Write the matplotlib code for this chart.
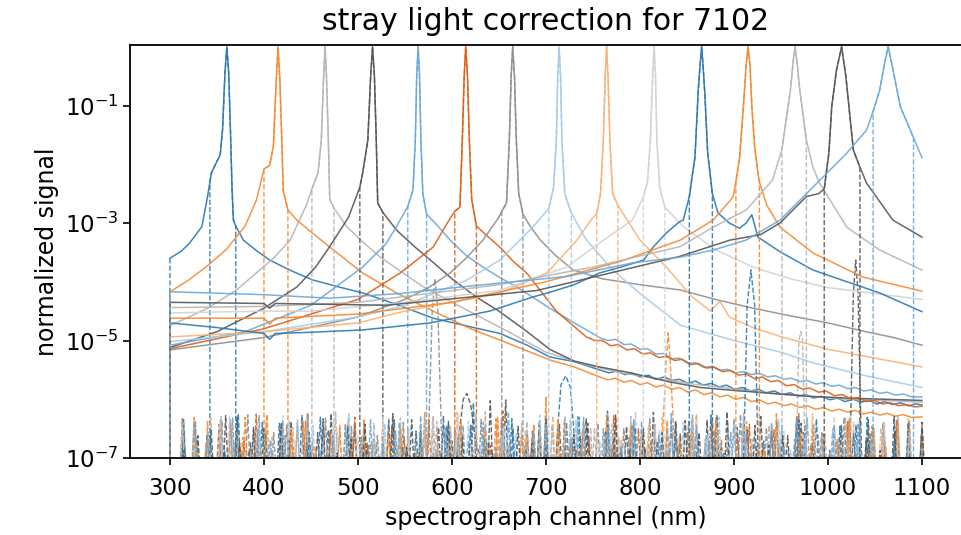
import numpy as np
import matplotlib.pyplot as plt

# laser lines measured on channel 7102 (peak position in nm)
peaks = [360.5, 415, 465, 515.5, 564, 614.6, 664.6, 714, 764.5, 815, 865.6, 915, 965, 1014.5, 1064]
colors = ['#2a78b0', '#f5892f', '#b5b5b5', '#555555', '#6aa8d8',
          '#dc6012', '#8e8e8e', '#a6cbe8', '#f9b274', '#d2d2d2',
          '#2a78b0', '#f5892f', '#b5b5b5', '#555555', '#6aa8d8']

# uncorrected signal (solid), (nm, log10 normalized signal)
l1 = [(300, -3.60), (312, -3.48), (321, -3.34), (334, -3.06), (340, -2.55), (342.5, -2.3), (344, -2.15),
      (350, -1.95), (353.5, -1.84), (356, -1.4), (358.5, -0.45), (360.5, 0), (362.5, -0.45), (364.5, -1.5),
      (366, -2.4), (367.5, -2.95), (370, -3.05), (378, -3.29), (392, -3.47), (406, -3.63), (430, -3.82),
      (452, -3.97), (480, -4.09), (505, -4.19), (540, -4.38), (580, -4.62), (615, -4.75), (651, -4.88),
      (680, -5.08), (704, -5.28), (730, -5.36), (757, -5.50),
      (767, -5.55), (775, -5.52), (784, -5.58), (792, -5.56), (800, -5.62), (809, -5.59), (817, -5.66),
      (826, -5.62), (834, -5.68), (842, -5.66), (851, -5.73), (859, -5.69), (867, -5.76), (876, -5.73),
      (884, -5.79), (892, -5.76), (901, -5.83), (909, -5.80), (918, -5.86), (926, -5.83), (934, -5.89),
      (943, -5.86), (951, -5.92), (960, -5.89), (968, -5.95), (976, -5.92), (985, -5.98), (993, -5.95),
      (1002, -6.01), (1010, -5.98), (1018, -6.04), (1027, -6.00), (1035, -6.05), (1044, -6.02),
      (1052, -6.08), (1060, -6.04), (1069, -6.09), (1077, -6.06), (1086, -6.11), (1094, -6.08), (1100, -6.10)]
l2 = [(300, -4.17), (320, -3.97), (339, -3.74), (360, -3.45), (380, -3.05), (392, -2.61), (400, -2.08),
      (406, -2.02), (410, -1.7), (413, -0.6), (415, 0), (417, -0.6), (419, -1.6), (420.5, -2.45),
      (425.5, -2.78), (435, -2.95), (450, -3.15), (470, -3.41), (505, -3.85), (541, -4.19), (580, -4.5),
      (620, -4.8), (660, -5.05), (704, -5.33), (730, -5.45), (757, -5.62),
      (766, -5.67), (774, -5.64), (783, -5.71), (791, -5.68), (800, -5.75), (808, -5.72), (817, -5.79),
      (825, -5.76), (834, -5.83), (842, -5.80), (851, -5.88), (859, -5.84), (868, -5.92), (876, -5.89),
      (885, -5.96), (893, -5.93), (902, -6.00), (910, -5.97), (919, -6.04), (927, -6.01), (936, -6.08),
      (944, -6.05), (953, -6.11), (961, -6.08), (970, -6.14), (978, -6.11), (987, -6.17), (995, -6.14),
      (1004, -6.20), (1012, -6.17), (1021, -6.22), (1029, -6.19), (1038, -6.25), (1046, -6.22),
      (1055, -6.27), (1063, -6.24), (1072, -6.29), (1080, -6.26), (1089, -6.31), (1100, -6.30)]
l3 = [(300, -4.75), (340, -4.45), (370, -4.15), (392, -3.85), (410, -3.6), (428, -3.29), (445, -2.7),
      (451, -2.42), (457.5, -2.15), (461, -1.59), (463.5, -0.5), (465, 0), (466.5, -0.5), (468.5, -1.6),
      (470, -2.6), (474.5, -2.75), (488, -3.06), (505, -3.32), (523, -3.57), (545, -3.82), (569, -4.08),
      (600, -4.35), (630, -4.6), (660, -4.85), (700, -5.2), (740, -5.4), (780, -5.55), (820, -5.65),
      (860, -5.75), (900, -5.82), (940, -5.9), (980, -5.95), (1020, -6.0), (1060, -6.02), (1100, -6.05)]
l4 = [(300, -5.12), (350, -4.85), (400, -4.45), (435, -4.09), (455, -3.75), (470, -3.40), (490, -2.9),
      (502, -2.39), (505, -2.15), (510.5, -1.59), (513.5, -0.5), (515.5, 0), (517.5, -0.5), (519.5, -1.6),
      (521, -2.66), (526.5, -2.82), (541, -3.12), (560, -3.4), (577, -3.63), (600, -3.95), (625, -4.25),
      (650, -4.5), (680, -4.85), (704, -5.15), (730, -5.35), (757, -5.45), (790, -5.55), (830, -5.7),
      (864, -5.8), (900, -5.85), (940, -5.9), (980, -5.95), (1020, -5.98), (1060, -6.0), (1100, -6.02)]
l5 = [(300, -5.08), (380, -4.85), (450, -4.4), (505, -3.75), (530, -3.35), (541, -3.06), (553, -2.72),
      (558.5, -2.44), (561, -1.6), (562.5, -0.5), (564, 0), (565.5, -0.5), (567, -1.6), (569, -2.5),
      (573, -2.85), (585, -3.05), (598, -3.29), (615, -3.55), (633, -3.75), (650, -3.92), (669, -4.09),
      (704, -4.45), (730, -4.7), (757, -4.95),
      (766, -5.00), (774, -4.98), (783, -5.07), (791, -5.06), (800, -5.15), (808, -5.14), (817, -5.23),
      (825, -5.22), (834, -5.31), (842, -5.30), (851, -5.39), (859, -5.38), (868, -5.46), (876, -5.44),
      (885, -5.51), (893, -5.49), (902, -5.55), (910, -5.53), (919, -5.58), (927, -5.56), (936, -5.62),
      (944, -5.60), (953, -5.66), (961, -5.64), (970, -5.70), (978, -5.68), (987, -5.74), (995, -5.72),
      (1004, -5.78), (1012, -5.76), (1021, -5.82), (1029, -5.80), (1038, -5.86), (1046, -5.84),
      (1055, -5.90), (1063, -5.88), (1072, -5.93), (1080, -5.91), (1089, -5.96), (1100, -5.96)]
l6 = [(300, -5.14), (400, -4.8), (500, -4.3), (545, -3.85), (565, -3.6), (580, -3.41), (595, -3.0),
      (603, -2.8), (608.5, -2.73), (611, -1.6), (613, -0.5), (614.6, 0), (616.5, -0.5), (618.5, -1.6),
      (621, -2.6), (626, -3.05), (636, -3.2), (651, -3.41), (665, -3.65), (680, -3.86), (711, -4.5),
      (743, -4.94),
      (752, -5.00), (760, -5.00), (769, -5.09), (777, -5.07), (786, -5.16), (794, -5.14), (803, -5.23),
      (811, -5.21), (820, -5.29), (828, -5.27), (837, -5.34), (845, -5.32), (854, -5.41), (862, -5.39),
      (871, -5.47), (879, -5.45), (888, -5.53), (896, -5.51), (905, -5.59), (913, -5.57), (922, -5.65),
      (930, -5.62), (939, -5.70), (947, -5.68), (956, -5.77), (964, -5.75), (973, -5.83), (981, -5.81),
      (990, -5.88), (998, -5.86), (1007, -5.94), (1015, -5.92), (1024, -5.99), (1032, -5.97),
      (1041, -6.04), (1049, -6.02), (1058, -6.08), (1066, -6.06), (1075, -6.11), (1083, -6.09),
      (1092, -6.13), (1100, -6.12)]
l7 = [(300, -5.16), (400, -4.95), (500, -4.6), (550, -4.3), (575, -4.1), (598, -3.85), (615, -3.6),
      (633, -3.29), (650, -2.9), (653, -2.8), (658, -2.66), (661, -1.6), (663, -0.5), (664.6, 0),
      (666.5, -0.5), (668.5, -1.6), (671, -2.5), (675.5, -2.85), (683, -3.05), (694, -3.29), (710, -3.55),
      (729, -3.80), (760, -3.95), (800, -4.05), (843, -4.14), (880, -4.3), (920, -4.45), (960, -4.58),
      (1000, -4.7), (1040, -4.85), (1070, -4.95), (1100, -5.08)]
l8 = [(300, -5.02), (400, -4.85), (500, -4.6), (550, -4.4), (616, -3.97), (651, -3.63), (686, -3.07),
      (703, -2.75), (708, -2.4), (711, -1.6), (712.5, -0.5), (714, 0), (715.5, -0.5), (717, -1.6),
      (720, -2.5), (723, -2.65), (727, -2.83), (743, -3.29), (771, -3.80), (800, -4.2), (843, -4.74),
      (900, -5.0), (950, -5.2), (984, -5.38), (1040, -5.6), (1100, -5.8)]
l9 = [(300, -4.94), (400, -4.85), (500, -4.7), (550, -4.5), (650, -4.2), (701, -3.85), (733, -3.29),
      (748, -2.95), (754, -2.83), (758, -2.5), (761, -1.6), (763, -0.5), (764.5, 0), (766, -0.5),
      (768, -1.6), (771, -2.5), (776.5, -2.7), (800, -3.29), (828, -3.75), (855, -4.25), (875, -4.5),
      (885, -4.33), (895, -4.6), (920, -4.78), (951, -4.94), (1000, -5.15), (1050, -5.3), (1100, -5.45)]
l10 = [(300, -4.53), (400, -4.5), (450, -4.5), (550, -4.35), (650, -4.15), (722, -3.75), (757, -3.34),
       (792, -2.95), (803.5, -2.56), (808, -2.3), (811, -1.6), (813.5, -0.5), (815, 0), (816.5, -0.5),
       (818, -1.6), (821, -2.4), (826.5, -2.73), (846, -3.06), (880, -3.45), (920, -3.75), (960, -3.95),
       (1000, -4.1), (1050, -4.2), (1100, -4.3)]
l11 = [(300, -4.70), (350, -4.78), (400, -4.88), (406, -4.98), (412, -4.88), (450, -4.86), (505, -4.82),
       (577, -4.70), (640, -4.5), (686, -4.26), (704, -4.18), (730, -4.05), (757, -3.85), (780, -3.75),
       (804, -3.63), (814, -3.41), (828, -3.17), (842, -2.98), (846, -2.95), (852.5, -2.55), (856, -2.15),
       (858.5, -1.88), (862, -0.74), (864, -0.3), (865.6, 0), (867, -0.3), (869, -0.8), (872, -1.8),
       (877, -2.5), (883, -2.83), (895, -3.0), (906, -3.09), (913, -3.0), (919, -2.86), (925.5, -3.24),
       (950, -3.5), (984, -3.80), (1020, -4.0), (1055, -4.19), (1100, -4.51)]
l12 = [(300, -4.62), (400, -4.62), (406, -4.72), (412, -4.62), (500, -4.55), (600, -4.35), (700, -4.0),
       (780, -3.65), (843, -3.29), (878, -2.95), (899, -2.56), (902, -2.3), (906, -1.88), (910, -1.02),
       (913, -0.3), (915, 0), (917, -0.3), (919, -1.02), (922, -1.7), (925.5, -2.15), (927, -2.3),
       (935, -2.7), (949, -3.07), (984, -3.51), (1037, -3.92), (1100, -4.16)]
l13 = [(300, -4.44), (400, -4.42), (500, -4.35), (650, -4.05), (750, -3.75), (843, -3.40), (878, -3.07),
       (913, -2.78), (941, -2.27), (951, -1.75), (955, -1.3), (960, -0.74), (963, -0.25), (965, 0),
       (967, -0.25), (970, -0.74), (977, -1.59), (984, -2.05), (991, -2.32), (1020, -3.07), (1055, -3.46),
       (1100, -3.80)]
l14 = [(300, -4.35), (400, -4.37), (406, -4.45), (412, -4.37), (530, -4.40), (690, -4.15), (842, -3.57),
       (896, -3.29), (928, -3.2), (949, -3.0), (977, -2.55), (990, -2.5), (996, -2.42), (1001, -1.8),
       (1004, -1.02), (1009, -0.4), (1014.5, 0), (1019, -0.5), (1027, -1.76), (1034, -2.05), (1041, -2.32),
       (1069, -2.95), (1100, -3.24)]
l15 = [(300, -4.17), (400, -4.22), (470, -4.28), (545, -4.20), (615, -4.08), (722, -3.91), (792, -3.68),
       (843, -3.58), (878, -3.46), (913, -3.29), (949, -2.95), (984, -2.39), (1020, -1.81), (1041, -1.42),
       (1048, -1.1), (1055, -0.74), (1060, -0.3), (1064, 0), (1068, -0.3), (1077, -1.02), (1091, -1.55),
       (1100, -1.89)]

# range around each peak kept by the correction (nm)
windows = [(342.5, 370), (400, 425.5), (451, 474.5), (502, 526.6), (553, 573), (603, 626),
           (653, 675.5), (703, 727), (754, 776.6), (803.5, 826.6), (852.5, 877), (902, 927),
           (951, 983.7), (996, 1034), (1048, 1091)]

# residual noise spikes of the corrected signal, in units of 1.5e-8, evenly over 300-1100 nm
f1 = [4, 22, 6, 31, 3, 18, 9, 27, 5, 14, 35, 7, 20, 2, 26, 11, 4, 30, 8, 17, 3, 24, 6, 58, 12, 5, 21, 9,
      29, 4, 16, 33, 7, 19, 3, 25, 10, 6, 28, 2, 15, 36, 8, 22, 5, 13, 27, 4, 18, 31, 9, 3, 24, 12, 6, 20, 30, 5]
f2 = [7, 19, 3, 28, 10, 5, 33, 14, 2, 23, 8, 40, 6, 17, 26, 4, 12, 29, 3, 21, 9, 34, 5, 15, 24, 2, 31, 11,
      6, 19, 72, 7, 13, 27, 3, 22, 8, 30, 5, 16, 25, 4, 37, 9, 14, 6, 28, 3, 20, 11, 33, 7, 18, 2, 26, 10, 23, 5, 15, 29, 4]
f3 = [12, 3, 25, 8, 17, 30, 5, 21, 2, 14, 27, 9, 36, 4, 19, 7, 24, 11, 3, 32, 6, 16, 28, 5, 20, 9, 41, 3,
      13, 26, 7, 18, 4, 29, 10, 22, 2, 15, 34, 6, 25, 8, 12, 31, 4, 19, 27, 6, 14, 3, 23, 9, 30, 5, 17, 11, 26, 3, 20, 8, 35, 5, 16]
f4 = [5, 26, 9, 16, 3, 33, 12, 21, 4, 28, 7, 18, 38, 2, 24, 10, 15, 6, 30, 3, 22, 13, 5, 27, 8, 65, 4, 19,
      11, 25, 3, 31, 7, 14, 23, 5, 40, 9, 17, 2, 29, 12, 6, 21, 34, 4, 16, 26, 8, 3, 24, 13, 30, 6, 18, 9, 27]
f5 = [18, 4, 29, 7, 23, 12, 3, 35, 9, 16, 26, 5, 20, 2, 31, 10, 14, 6, 27, 3, 39, 8, 19, 24, 4, 13, 30, 7,
      17, 2, 25, 11, 34, 5, 21, 9, 15, 28, 3, 22, 6, 36, 12, 4, 18, 27, 8, 3, 24, 14, 32, 5, 19, 10, 26, 6, 16, 29, 4, 21]
f6 = [9, 31, 4, 17, 25, 6, 13, 37, 3, 22, 10, 28, 5, 19, 2, 33, 12, 7, 24, 15, 4, 30, 8, 20, 3, 26, 11, 42,
      6, 16, 23, 5, 29, 9, 14, 3, 35, 7, 21, 12, 4, 27, 18, 6, 32, 2, 15, 25, 9, 20, 4, 38, 11, 17, 6, 28, 3, 22, 13, 30, 5, 19]
f7 = [3, 21, 14, 6, 29, 9, 36, 4, 18, 25, 7, 12, 32, 3, 23, 10, 16, 5, 27, 8, 40, 2, 20, 13, 30, 6, 17, 24,
      4, 34, 9, 15, 3, 26, 11, 21, 7, 31, 5, 14, 28, 3, 19, 10, 37, 6, 22, 12, 4, 25, 16, 8, 33, 3, 18, 27, 7, 13, 23]
f8 = [16, 5, 27, 11, 3, 34, 8, 20, 14, 4, 30, 7, 24, 2, 18, 38, 6, 12, 26, 9, 21, 3, 32, 5, 15, 28, 10, 4,
      23, 17, 6, 36, 3, 19, 29, 8, 13, 25, 5, 41, 11, 20, 4, 27, 7, 16, 33, 3, 22, 12, 6, 30, 9, 18, 26, 4, 14, 35, 8, 21, 5, 24, 11, 3]
f9 = [25, 7, 14, 32, 4, 19, 10, 28, 3, 22, 37, 6, 15, 26, 9, 3, 31, 12, 18, 5, 24, 40, 8, 13, 29, 4, 20, 11,
      35, 6, 17, 2, 27, 14, 9, 23, 33, 5, 16, 7, 30, 3, 21, 12, 26, 6, 19, 38, 4, 15, 28, 9, 22, 3, 31, 11]
f10 = [6, 24, 12, 3, 30, 17, 8, 26, 4, 35, 13, 21, 5, 28, 9, 16, 2, 33, 19, 7, 25, 11, 4, 39, 14, 22, 6, 29,
       3, 18, 31, 9, 15, 24, 5, 36, 10, 20, 3, 27, 13, 7, 32, 17, 4, 23, 11, 30, 6, 19, 26, 3, 14, 34, 8, 21, 5, 28, 12, 16, 4]
f11 = [13, 30, 5, 21, 9, 38, 3, 17, 26, 7, 12, 33, 4, 23, 15, 6, 29, 10, 19, 2, 35, 8, 24, 14, 4, 31, 11, 20,
       6, 27, 16, 3, 42, 9, 22, 5, 18, 28, 7, 13, 36, 4, 25, 10, 19, 3, 30, 12, 6, 23, 17, 33, 5, 14, 27, 8]
f12 = [20, 6, 33, 11, 4, 26, 15, 8, 37, 3, 19, 28, 10, 5, 24, 13, 31, 2, 17, 22, 7, 40, 9, 14, 27, 4, 21, 34,
       6, 16, 25, 3, 30, 12, 18, 5, 36, 8, 23, 11, 4, 29, 15, 20, 6, 32, 3, 26, 13, 9, 38, 5, 18, 24, 7, 14, 31, 4, 21, 10, 27, 6, 16]
f13 = [8, 27, 4, 19, 34, 11, 6, 23, 15, 3, 30, 9, 21, 40, 5, 14, 26, 7, 18, 2, 32, 12, 24, 6, 37, 10, 16, 4,
       28, 20, 8, 35, 3, 22, 13, 29, 5, 17, 25, 9, 3, 31, 14, 19, 6, 39, 11, 24, 4, 15, 27, 7, 21, 33, 5, 12, 26, 9, 18, 3]
f14 = [29, 9, 16, 4, 35, 12, 22, 6, 27, 3, 18, 31, 8, 14, 25, 5, 38, 10, 20, 3, 28, 15, 7, 63, 4, 23, 12, 30,
       6, 17, 26, 2, 36, 9, 21, 13, 5, 29, 18, 7, 41, 4, 24, 11, 16, 32, 6, 20, 3, 27, 14, 9, 34, 5, 22]
f15 = [11, 4, 26, 17, 7, 32, 3, 20, 13, 28, 5, 37, 9, 16, 24, 3, 30, 12, 19, 6, 35, 8, 22, 15, 4, 27, 10, 41,
       5, 18, 25, 7, 14, 33, 3, 21, 11, 29, 6, 16, 38, 4, 23, 13, 8, 31, 19, 5, 26, 10, 34, 3, 17, 24, 7, 28, 12, 20, 4, 30, 9]

# features left in the corrected data (ghosts / second order), (nm, log10)
ghosts = {
    0: [(712, -6.6), (716, -5.75), (721, -5.6), (726, -5.8), (730, -6.6)],
    1: [(824, -6.6), (828, -5.3), (830, -4.87), (832, -5.3), (836, -6.6)],
    2: [(966, -7.2), (969, -5.0), (971, -4.85), (973, -5.0), (976, -7.2)],
    3: [(606, -6.8), (612, -6.0), (616, -5.9), (620, -6.1), (626, -6.8),
        (1023, -7.2), (1027, -4.2), (1029.5, -3.63), (1032, -4.2), (1036, -7.2)],
    6: [(574, -7.2), (579, -4.5), (582, -3.95), (585, -4.5), (590, -7.2)],
    10: [(910, -7.2), (914, -4.4), (918, -3.8), (922, -4.4), (926, -7.2)],
}

lines = [l1, l2, l3, l4, l5, l6, l7, l8, l9, l10, l11, l12, l13, l14, l15]
floors = [f1, f2, f3, f4, f5, f6, f7, f8, f9, f10, f11, f12, f13, f14, f15]

LOW = -7.6    # below the axis, for the drops at the window edges
BASE = -7.3   # foot of the noise spikes
HALF = 2.8    # half width of one noise spike (nm)


def corrected(line, window, floor, ghost):
    a, b = window
    fx = np.linspace(300, 1100, len(floor))
    busy = [(ghost[k][0], ghost[k + 4][0]) for k in range(0, len(ghost), 5)]
    groups = []
    for x, v in zip(fx[1:], floor[1:]):
        if a - HALF < x < b + HALF or any(g0 - HALF < x < g1 + HALF for g0, g1 in busy):
            continue
        groups.append([(x - HALF, BASE), (x, np.log10(v * 1.5e-8)), (x + HALF, BASE)])
    groups += [ghost[k:k + 5] for k in range(0, len(ghost), 5)]
    groups.sort(key=lambda g: g[0][0])
    inside = [p for p in line if a <= p[0] <= b]
    path = [line[0], (line[0][0], LOW)]
    path += [p for g in groups if g[0][0] < a for p in g]
    path += [(inside[0][0], LOW)] + inside + [(inside[-1][0], LOW)]
    path += [p for g in groups if g[0][0] > b for p in g]
    x, y = zip(*path)
    return np.array(x), 10 ** np.array(y)


fig = plt.figure(figsize=(9.61, 5.35), dpi=100)
ax = fig.add_axes([130 / 961, 77 / 535, 831 / 961, 413 / 535])

for i, line in enumerate(lines):
    x, y = zip(*line)
    ax.plot(x, 10 ** np.array(y), color=colors[i], lw=1.1, alpha=0.9)
    dx, dy = corrected(line, windows[i], floors[i], ghosts.get(i, []))
    ax.plot(dx, dy, color=colors[i], lw=1.0, ls='--', alpha=0.9)

ax.set_yscale('log')
ax.set_xlim(257.5, 1141.5)
ax.set_ylim(1e-7, 10 ** 0.03)
ax.set_yticks([1e-7, 1e-5, 1e-3, 1e-1])
ax.yaxis.set_minor_locator(plt.NullLocator())
ax.set_xticks(range(300, 1101, 100))
ax.tick_params(labelsize=16.5, width=1.2, length=5)
ax.tick_params(axis='x', pad=9)
for s in ax.spines.values():
    s.set_linewidth(1.3)
ax.spines['right'].set_visible(False)

ax.set_title('stray light correction for 7102', fontsize=21.5, pad=11)
ax.set_xlabel('spectrograph channel (nm)', fontsize=17)
ax.set_ylabel('normalized signal', fontsize=17)

fig.savefig('out.png', dpi=100)
